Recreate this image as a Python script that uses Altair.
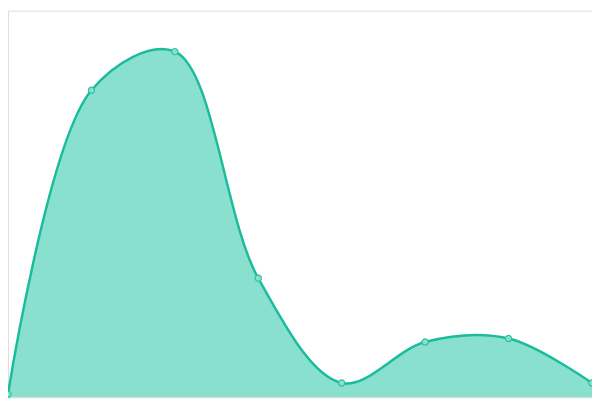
import altair as alt
import pandas as pd

idx = [0, 1, 2, 3, 4, 5, 6, 7]
values = [0.8, 79.4, 89.4, 30.8, 3.7, 14.3, 15.2, 3.7]

df = pd.DataFrame({"i": idx, "v": values})

x = alt.X("i:Q", axis=None, scale=alt.Scale(domain=[0, 7], nice=False, zero=False))
y = alt.Y("v:Q", axis=None, scale=alt.Scale(domain=[0, 100], nice=False))

base = alt.Chart(df)
area = base.mark_area(interpolate="catmull-rom", color="#8ae0cf", opacity=1).encode(x=x, y=y)
line = base.mark_line(interpolate="catmull-rom", color="#1abc9c", strokeWidth=2.5).encode(x=x, y=y)
pts = base.mark_point(filled=True, fill="#8ae0cf", stroke="#2fbf9f", strokeWidth=1.2, size=40, opacity=1).encode(x=x, y=y)

chart = (area + line + pts).properties(
    width=592, height=392, padding=0, autosize=alt.AutoSizeParams(type="none")
).configure_view(stroke="transparent", strokeOpacity=0, strokeWidth=0).configure(background="white")

chart.save("out.html", embed_options={"renderer": "svg", "actions": False})
